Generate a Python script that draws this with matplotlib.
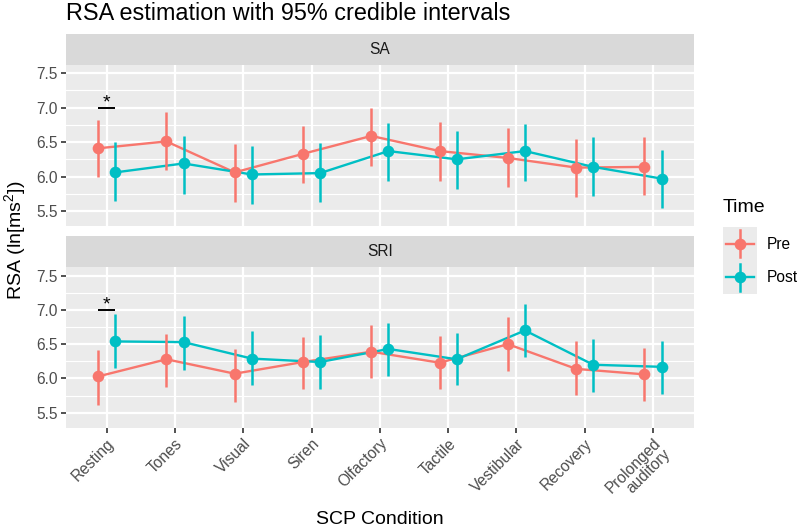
import matplotlib
matplotlib.use('Agg')
import matplotlib.pyplot as plt
import numpy as np

plt.rcParams['font.family'] = ['Liberation Sans', 'DejaVu Sans']
plt.rcParams['mathtext.fontset'] = 'custom'
plt.rcParams['mathtext.rm'] = 'Liberation Sans'
plt.rcParams['mathtext.it'] = 'Liberation Sans:italic'

# ---------------- data ----------------
conditions = ["Resting", "Tones", "Visual", "Siren", "Olfactory", "Tactile",
              "Vestibular", "Recovery", "Prolonged\nauditory"]
panels = ["SA", "SRI"]
times = ["Pre", "Post"]

sa_pre_est = [6.41, 6.51, 6.06, 6.33, 6.59, 6.37, 6.27, 6.13, 6.14]
sa_pre_lo = [5.99, 6.10, 5.63, 5.90, 6.16, 5.94, 5.85, 5.71, 5.73]
sa_pre_hi = [6.82, 6.94, 6.47, 6.74, 7.00, 6.79, 6.70, 6.55, 6.57]
sa_post_est = [6.06, 6.19, 6.03, 6.05, 6.37, 6.25, 6.37, 6.14, 5.97]
sa_post_lo = [5.65, 5.75, 5.60, 5.63, 5.94, 5.82, 5.93, 5.72, 5.54]
sa_post_hi = [6.50, 6.59, 6.44, 6.48, 6.78, 6.66, 6.77, 6.57, 6.38]

sri_pre_est = [6.03, 6.28, 6.07, 6.24, 6.39, 6.23, 6.50, 6.14, 6.06]
sri_pre_lo = [5.62, 5.87, 5.66, 5.85, 6.00, 5.85, 6.11, 5.76, 5.67]
sri_pre_hi = [6.41, 6.65, 6.43, 6.61, 6.78, 6.62, 6.89, 6.54, 6.45]
sri_post_est = [6.54, 6.53, 6.29, 6.24, 6.43, 6.28, 6.70, 6.20, 6.17]
sri_post_lo = [6.16, 6.13, 5.90, 5.85, 6.03, 5.90, 6.31, 5.80, 5.77]
sri_post_hi = [6.94, 6.91, 6.69, 6.63, 6.81, 6.67, 7.09, 6.58, 6.55]

sig_condition = "Resting"
sig_y = [7.0, 7.0]
y_ticks = [5.5, 6.0, 6.5, 7.0, 7.5]

data = {
    "SA": {"Pre": (sa_pre_est, sa_pre_lo, sa_pre_hi),
           "Post": (sa_post_est, sa_post_lo, sa_post_hi)},
    "SRI": {"Pre": (sri_pre_est, sri_pre_lo, sri_pre_hi),
            "Post": (sri_post_est, sri_post_lo, sri_post_hi)},
}

# ---------------- style ----------------
colors = {"Pre": "#F8766D", "Post": "#00BFC4"}
dodge = {"Pre": -0.125, "Post": 0.125}
W, H = 800, 530

def fr(x0, y0, x1, y1):
    return [x0 / W, 1 - y1 / H, (x1 - x0) / W, (y1 - y0) / H]

fig = plt.figure(figsize=(8, 5.3), dpi=100)
fig.patch.set_facecolor('white')

panel_boxes = [(65.7, 65.0, 694.0, 225.7), (65.7, 267.3, 694.0, 427.5)]
strip_boxes = [(65.7, 34.0, 694.0, 65.0), (65.7, 236.0, 694.0, 267.3)]

x = np.arange(len(conditions))
for i, p in enumerate(panels):
    ax = fig.add_axes(fr(*panel_boxes[i]))
    ax.set_facecolor('#EBEBEB')
    for s in ax.spines.values():
        s.set_visible(False)
    ax.set_xlim(-0.6, len(conditions) - 1 + 0.6)
    ax.set_ylim(5.286, 7.62)
    ax.set_yticks(y_ticks)
    ax.set_yticks([5.75, 6.25, 6.75, 7.25], minor=True)
    ax.set_yticklabels([f"{v:.1f}" for v in y_ticks])
    ax.set_xticks(x)
    ax.grid(True, which='major', color='white', linewidth=1.6, zorder=0)
    ax.grid(True, which='minor', axis='y', color='white', linewidth=0.8, zorder=0)
    ax.set_axisbelow(True)
    ax.tick_params(axis='both', which='major', length=3.5, width=1.2, color='#333333',
                   labelcolor='#4D4D4D', labelsize=11.2, pad=2.5)
    ax.tick_params(axis='y', which='minor', length=0)
    if i == 0:
        ax.tick_params(axis='x', which='major', length=0, labelbottom=False)
    else:
        ax.set_xticklabels(conditions, rotation=45, ha='right', va='top',
                           rotation_mode='anchor', linespacing=0.95)

    for t in times:
        est, lo, hi = data[p][t]
        xs = x + dodge[t]
        ax.plot(xs, est, color=colors[t], linewidth=1.7, zorder=2)
    for zi, t in enumerate(times):
        est, lo, hi = data[p][t]
        xs = x + dodge[t]
        ax.vlines(xs, lo, hi, color=colors[t], linewidth=1.8, zorder=3 + zi)
        ax.plot(xs, est, 'o', color=colors[t], markersize=8.4, zorder=3 + zi,
                markeredgewidth=0)

    xi = conditions.index(sig_condition)
    ax.hlines(sig_y[i], xi - 0.125, xi + 0.125, color='black', linewidth=1.4, zorder=6)
    ax.text(xi, sig_y[i] + 0.005, "*", ha='center', va='baseline', fontsize=14,
            color='black', zorder=6)

    sax = fig.add_axes(fr(*strip_boxes[i]))
    sax.set_facecolor('#D9D9D9')
    sax.set_xticks([]); sax.set_yticks([])
    for s in sax.spines.values():
        s.set_visible(False)
    sax.text(0.5, 0.5, p, ha='center', va='center', fontsize=11.2, color='#1A1A1A',
             transform=sax.transAxes)

# titles
fig.text(66.0 / W, 1 - 14 / H, "RSA estimation with 95% credible intervals",
         ha='left', va='center', fontsize=16.8, color='black')
fig.text(15 / W, 1 - 240 / H, "RSA (ln[ms$^2$])", rotation=90, ha='center',
         va='center', fontsize=14, color='black')
fig.text(380 / W, 1 - 519 / H, "SCP Condition", ha='center', va='center',
         fontsize=14, color='black')

# legend
lax = fig.add_axes(fr(723, 227, 757, 294))
lax.set_xlim(0, 1); lax.set_ylim(0, 2)
lax.set_facecolor('#EBEBEB')
lax.set_xticks([]); lax.set_yticks([])
for s in lax.spines.values():
    s.set_visible(False)
for k, t in enumerate(times):
    yc = 1.5 - k
    lax.plot([0.1, 0.9], [yc, yc], color=colors[t], linewidth=1.7)
    lax.plot([0.5, 0.5], [yc - 0.4, yc + 0.4], color=colors[t], linewidth=1.8)
    lax.plot([0.5], [yc], 'o', color=colors[t], markersize=8.4, markeredgewidth=0)
    fig.text(767 / W, 1 - (244.5 + 33.5 * k) / H, t, ha='left', va='center',
             fontsize=11.2, color='black')
fig.text(723 / W, 1 - 208 / H, "Time", ha='left', va='center', fontsize=14,
         color='black')

fig.savefig('out.png', dpi=100, facecolor='white')
